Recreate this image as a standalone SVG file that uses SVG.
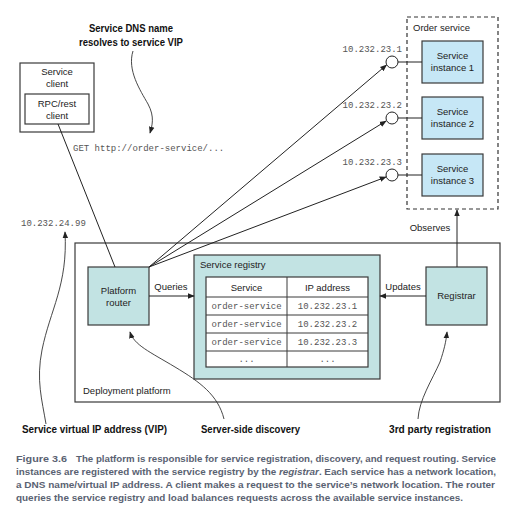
<svg xmlns="http://www.w3.org/2000/svg" width="513" height="521" viewBox="0 0 513 521">
  <style>
    .box { stroke: #3a3a3a; stroke-width: 1.2; }
    .teal { fill: #c2e3e3; }
    .blue { fill: #c6e7f6; }
    .white { fill: #ffffff; }
    .sans { font-family: "Liberation Sans", Arial, sans-serif; font-size: 9.5px; fill: #222; }
    .mono { font-family: "Liberation Mono", "Courier New", monospace; font-size: 9px; fill: #555; }
    .note { font-family: "Liberation Sans", Arial, sans-serif; font-size: 11.5px; font-weight: bold; fill: #111; }
    .cap { font-family: "Liberation Sans", Arial, sans-serif; font-size: 9.6px; font-weight: bold; fill: #5a6272; }
    .wire { stroke: #222; stroke-width: 1; fill: none; }
    .curl { stroke: #333; stroke-width: 0.9; fill: none; }
  </style>
  <defs>
    <marker id="arrow" viewBox="0 0 10 10" refX="9" refY="5" markerWidth="7" markerHeight="7" markerUnits="userSpaceOnUse" orient="auto">
      <path d="M0,1 L10,5 L0,9 Z" fill="#222"/>
    </marker>
  </defs>

  <rect width="513" height="521" fill="#ffffff"/>

  <!-- deployment platform frame -->
  <g id="deployment-platform">
    <rect x="75" y="243" width="425" height="159" fill="none" class="box"/>
    <text x="83" y="394" class="sans">Deployment platform</text>
  </g>

  <!-- order service group -->
  <g id="order-service">
    <rect x="407" y="17" width="91" height="192" fill="none" stroke="#333" stroke-width="1.2" stroke-dasharray="4,3"/>
    <text x="413" y="31" class="sans">Order service</text>
  </g>

  <g id="service-client">
    <rect x="20" y="63" width="74" height="69" class="box white"/>
    <text x="57" y="75" class="sans" text-anchor="middle">Service</text>
    <text x="57" y="87" class="sans" text-anchor="middle">client</text>
    <rect x="25" y="94" width="64" height="30" class="box white"/>
    <text x="57" y="107" class="sans" text-anchor="middle">RPC/rest</text>
    <text x="57" y="119" class="sans" text-anchor="middle">client</text>
  </g>

  <g id="platform-router">
    <rect x="88" y="267" width="61" height="58" class="box teal"/>
    <text x="118.5" y="294" class="sans" text-anchor="middle">Platform</text>
    <text x="118.5" y="306" class="sans" text-anchor="middle">router</text>
  </g>

  <g id="service-registry">
    <rect x="194" y="255" width="186" height="124" class="box teal"/>
    <text x="200" y="268" class="sans">Service registry</text>
    <rect x="206" y="277" width="162" height="90" class="box white"/>
    <g stroke="#3a3a3a" stroke-width="1">
      <line x1="287" y1="277" x2="287" y2="367"/>
      <line x1="206" y1="297" x2="368" y2="297"/>
      <line x1="206" y1="315" x2="368" y2="315"/>
      <line x1="206" y1="333" x2="368" y2="333"/>
      <line x1="206" y1="351" x2="368" y2="351"/>
    </g>
    <text x="246.5" y="291" class="sans" text-anchor="middle">Service</text>
    <text x="327.5" y="291" class="sans" text-anchor="middle">IP address</text>
    <text x="246.5" y="309" class="mono" text-anchor="middle">order-service</text>
    <text x="327.5" y="309" class="mono" text-anchor="middle">10.232.23.1</text>
    <text x="246.5" y="327" class="mono" text-anchor="middle">order-service</text>
    <text x="327.5" y="327" class="mono" text-anchor="middle">10.232.23.2</text>
    <text x="246.5" y="345" class="mono" text-anchor="middle">order-service</text>
    <text x="327.5" y="345" class="mono" text-anchor="middle">10.232.23.3</text>
    <text x="246.5" y="362" class="mono" text-anchor="middle">...</text>
    <text x="327.5" y="362" class="mono" text-anchor="middle">...</text>
  </g>

  <g id="registrar">
    <rect x="426" y="267" width="61" height="58" class="box teal"/>
    <text x="456.5" y="299" class="sans" text-anchor="middle">Registrar</text>
  </g>

  <g id="service-instance-1">
    <rect x="422" y="41" width="61" height="42" class="box blue"/>
    <text x="452.5" y="59" class="sans" text-anchor="middle">Service</text>
    <text x="452.5" y="71" class="sans" text-anchor="middle">instance 1</text>
  </g>
  <g id="service-instance-2">
    <rect x="422" y="97" width="61" height="42" class="box blue"/>
    <text x="452.5" y="115" class="sans" text-anchor="middle">Service</text>
    <text x="452.5" y="127" class="sans" text-anchor="middle">instance 2</text>
  </g>
  <g id="service-instance-3">
    <rect x="422" y="154" width="61" height="42" class="box blue"/>
    <text x="452.5" y="172" class="sans" text-anchor="middle">Service</text>
    <text x="452.5" y="184" class="sans" text-anchor="middle">instance 3</text>
  </g>

  <!-- network endpoints of the instances -->
  <g id="endpoints">
    <line x1="398" y1="62" x2="422" y2="62" class="wire"/>
    <line x1="398" y1="118" x2="422" y2="118" class="wire"/>
    <line x1="398" y1="175" x2="422" y2="175" class="wire"/>
    <circle cx="392" cy="62" r="6" fill="#fff" stroke="#222" stroke-width="1"/>
    <circle cx="392" cy="118" r="6" fill="#fff" stroke="#222" stroke-width="1"/>
    <circle cx="392" cy="175" r="6" fill="#fff" stroke="#222" stroke-width="1"/>
    <text x="402" y="52" class="mono" text-anchor="end">10.232.23.1</text>
    <text x="402" y="108" class="mono" text-anchor="end">10.232.23.2</text>
    <text x="402" y="165" class="mono" text-anchor="end">10.232.23.3</text>
  </g>

  <g id="connectors">
    <line x1="58" y1="124" x2="115" y2="267" class="wire"/>
    <line x1="149" y1="267" x2="386.5" y2="65" class="wire" marker-end="url(#arrow)"/>
    <line x1="149" y1="267" x2="386" y2="121" class="wire" marker-end="url(#arrow)"/>
    <line x1="149" y1="267" x2="386" y2="177" class="wire" marker-end="url(#arrow)"/>
    <line x1="149" y1="296" x2="194" y2="296" class="wire" marker-end="url(#arrow)"/>
    <text x="171" y="290" class="sans" text-anchor="middle">Queries</text>
    <line x1="426" y1="296" x2="380" y2="296" class="wire" marker-end="url(#arrow)"/>
    <text x="403" y="290" class="sans" text-anchor="middle">Updates</text>
    <line x1="457" y1="267" x2="457" y2="210" class="wire" marker-end="url(#arrow)"/>
    <text x="430" y="231" class="sans" text-anchor="middle">Observes</text>
  </g>

  <!-- address labels -->
  <text x="73" y="151" class="mono" font-size="9.2px">GET http://order-service/...</text>
  <text x="21" y="226" class="mono">10.232.24.99</text>

  <!-- annotations -->
  <g id="annotations">
    <text x="89" y="32" class="note" textLength="84" lengthAdjust="spacingAndGlyphs">Service DNS name</text>
    <text x="79" y="46" class="note" textLength="104" lengthAdjust="spacingAndGlyphs">resolves to service VIP</text>
    <path d="M133,51 C127,70 140,90 148,104 C155,117 152,126 150,133" class="curl" marker-end="url(#arrow)"/>

    <path d="M46,424 C42,400 36,380 42,350 C50,310 68,285 65,232" class="curl" marker-end="url(#arrow)"/>
    <text x="22" y="433" class="note" textLength="145" lengthAdjust="spacingAndGlyphs">Service virtual IP address (VIP)</text>

    <path d="M224,419 C218,395 200,382 175,367 C150,352 134,345 130,332" class="curl" marker-end="url(#arrow)"/>
    <text x="201" y="433" class="note" textLength="99" lengthAdjust="spacingAndGlyphs">Server-side discovery</text>

    <path d="M418,419 C419,400 432,380 440,362 C444,350 446,342 447,332" class="curl" marker-end="url(#arrow)"/>
    <text x="389" y="433" class="note" textLength="102" lengthAdjust="spacingAndGlyphs">3rd party registration</text>
  </g>

  <!-- caption -->
  <g id="caption">
    <text y="462" class="cap"><tspan x="16" textLength="51" lengthAdjust="spacingAndGlyphs">Figure 3.6</tspan><tspan x="76" textLength="420" lengthAdjust="spacingAndGlyphs">The platform is responsible for service registration, discovery, and request routing. Service</tspan></text>
    <text x="16" y="475" class="cap" textLength="480" lengthAdjust="spacingAndGlyphs">instances are registered with the service registry by the <tspan font-style="italic">registrar</tspan>. Each service has a network location,</text>
    <text x="16" y="488" class="cap" textLength="479" lengthAdjust="spacingAndGlyphs">a DNS name/virtual IP address. A client makes a request to the service’s network location. The router</text>
    <text x="16" y="501" class="cap" textLength="447" lengthAdjust="spacingAndGlyphs">queries the service registry and load balances requests across the available service instances.</text>
  </g>
</svg>
